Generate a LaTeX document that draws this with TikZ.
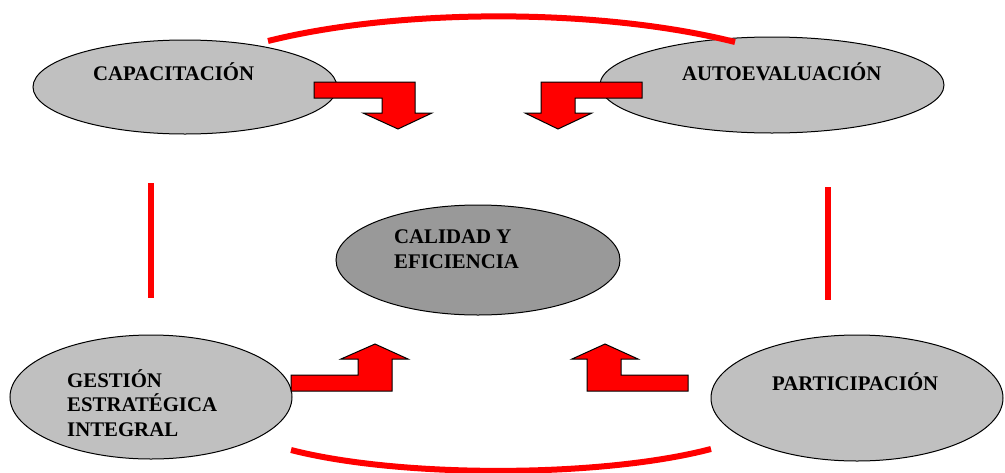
\documentclass[tikz,border=0pt]{standalone}
\usepackage{fontspec}
\setmainfont{Liberation Serif}
\usetikzlibrary{shapes.geometric}
\definecolor{lightg}{HTML}{C0C0C0}
\definecolor{darkg}{HTML}{999999}
\definecolor{lred}{HTML}{FF0000}
\tikzset{
  oval/.style={ellipse, draw=black, line width=1pt, fill=lightg, inner sep=0pt},
  lbl/.style={font=\fontsize{20.8}{24.5}\selectfont\bfseries, inner sep=0pt, align=left, text=black},
  bentarrow/.style={fill=lred, draw=black, line width=1pt, line join=miter},
  link/.style={draw=lred, line width=6pt}
}
\begin{document}
\begin{tikzpicture}[x=1pt,y=-1pt]
\useasboundingbox (0,0) rectangle (1005,472);
% ellipses
\node[oval, minimum width=304pt, minimum height=94pt] (cap) at (185,87) {};
\node[oval, minimum width=344pt, minimum height=96pt] (aut) at (772,85) {};
\node[oval, fill=darkg, minimum width=284pt, minimum height=110pt] (cal) at (478,260) {};
\node[oval, minimum width=282pt, minimum height=124pt] (ges) at (151,397) {};
\node[oval, minimum width=292pt, minimum height=126pt] (par) at (857,398) {};
% bent arrows
\path[bentarrow] (314,82) -- (415,82) -- (415,113) -- (432,113) -- (398,129) -- (363,113) -- (382,113) -- (382,98) -- (314,98) -- cycle;
\path[bentarrow] (642,82) -- (541,82) -- (541,113) -- (525,113) -- (558,129) -- (592,113) -- (575,113) -- (575,98) -- (642,98) -- cycle;
\path[bentarrow] (291,391) -- (392,391) -- (392,359) -- (408,359) -- (375,344) -- (341,359) -- (358,359) -- (358,375) -- (291,375) -- cycle;
\path[bentarrow] (688,391) -- (587,391) -- (587,359) -- (572,359) -- (605,344) -- (638,359) -- (621,359) -- (621,375) -- (688,375) -- cycle;
% red links
\coordinate (t1) at (268,41);
\coordinate (t2) at (735,42);
\coordinate (b1) at (291,450);
\coordinate (b2) at (711,449);
\coordinate (l1) at (151,183);
\coordinate (l2) at (151,298);
\coordinate (r1) at (828,187);
\coordinate (r2) at (828,300);
\draw[link] (t1) .. controls (400,8) and (600,8) .. (t2);
\draw[link] (b1) .. controls (400,478) and (600,478) .. (b2);
\draw[link] (l1) -- (l2);
\draw[link] (r1) -- (r2);
% labels
\node[lbl, anchor=base west] (capt) at (93,80) {CAPACITACIÓN};
\node[lbl, anchor=base west] (autt) at (682,80) {AUTOEVALUACIÓN};
\node[lbl, anchor=base west] (calt) at (394,268) {CALIDAD Y\\EFICIENCIA};
\node[lbl, anchor=base west] (gest) at (67,436) {GESTIÓN\\ESTRATÉGICA\\INTEGRAL};
\node[lbl, anchor=base west] (part) at (772,390) {PARTICIPACIÓN};
\end{tikzpicture}
\end{document}
